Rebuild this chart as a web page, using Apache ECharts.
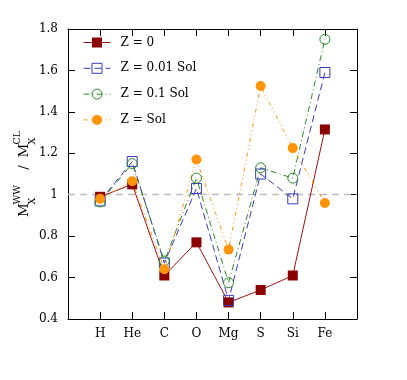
<!DOCTYPE html>
<html>
<head>
<meta charset="utf-8">
<script src="https://cdn.jsdelivr.net/npm/echarts@6/dist/echarts.min.js"></script>
<style>
html,body{margin:0;padding:0;background:#fff;}
#chart{width:407px;height:380px;}
</style>
</head>
<body>
<div id="chart"></div>
<script>
var categories = ['H', 'He', 'C', 'O', 'Mg', 'S', 'Si', 'Fe'];
var seriesNames = ['Z = 0', 'Z = 0.01 Sol', 'Z = 0.1 Sol', 'Z = Sol'];
var z0 = [0.99, 1.05, 0.61, 0.77, 0.48, 0.54, 0.61, 1.315];
var z001 = [0.97, 1.16, 0.67, 1.03, 0.49, 1.10, 0.98, 1.59];
var z01 = [0.965, 1.15, 0.68, 1.08, 0.575, 1.13, 1.08, 1.75];
var zsol = [0.98, 1.065, 0.64, 1.17, 0.735, 1.525, 1.225, 0.96];
var yTicks = [0.4, 0.6, 0.8, 1, 1.2, 1.4, 1.6, 1.8];

var FONT = '"DejaVu Serif"';
function pts(vals){ return categories.map(function(c,i){ return [i, vals[i]]; }); }

var chart = echarts.init(document.getElementById('chart'), null, {renderer:'canvas'});
var xCommon = {type:'value', min:-1, max:8, interval:1,
  axisLine:{show:true, onZero:false, lineStyle:{color:'#000', width:1}},
  axisTick:{show:true, inside:true, length:7, lineStyle:{color:'#000'}},
  splitLine:{show:false}};
var yCommon = {type:'value', min:yTicks[0], max:yTicks[yTicks.length-1], interval:0.2,
  axisLine:{show:true, onZero:false, lineStyle:{color:'#000', width:1}},
  axisTick:{show:true, inside:true, length:7, lineStyle:{color:'#000'}},
  splitLine:{show:false}};

var option = {
  animation:false,
  backgroundColor:'#fff',
  grid:{left:68, right:50, top:29, bottom:61},
  xAxis:[
    Object.assign({}, xCommon, {position:'bottom',
      axisLabel:{show:true, margin:9, color:'#000', fontFamily:FONT, fontSize:12,
        formatter:function(v){ return categories[v] || ''; }}}),
    Object.assign({}, xCommon, {position:'top', axisLabel:{show:false}})
  ],
  yAxis:[
    Object.assign({}, yCommon, {position:'left',
      axisLabel:{show:true, margin:10, color:'#000', fontFamily:FONT, fontSize:12}}),
    Object.assign({}, yCommon, {position:'right', axisLabel:{show:false}})
  ],
  legend:{
    orient:'vertical', left:83, top:36.5, padding:0,
    itemWidth:27, itemHeight:12.5, itemGap:13.8,
    data:seriesNames,
    itemStyle:{borderWidth:1},
    lineStyle:{width:1},
    textStyle:{color:'#000', fontFamily:FONT, fontSize:12, padding:[0,0,0,5]}
  },
  graphic:[{
    type:'group', x:29, y:174.5, rotation:Math.PI/2,
    children:[
      {type:'text', x:-42.5, y:-5, style:{text:'M', font:'13.5px '+FONT, fill:'#000', align:'left', verticalAlign:'middle', textAlign:'left', textVerticalAlign:'middle'}},
      {type:'text', x:-30, y:4, style:{text:'X', font:'9.5px '+FONT, fill:'#000', align:'left', verticalAlign:'middle', textAlign:'left', textVerticalAlign:'middle'}},
      {type:'text', x:-30, y:-11.5, style:{text:'WW', font:'9.5px '+FONT, fill:'#000', align:'left', verticalAlign:'middle', textAlign:'left', textVerticalAlign:'middle'}},
      {type:'text', x:7, y:-5, style:{text:'/', font:'13.5px '+FONT, fill:'#000', align:'center', verticalAlign:'middle', textAlign:'center', textVerticalAlign:'middle'}},
      {type:'text', x:17, y:-5, style:{text:'M', font:'13.5px '+FONT, fill:'#000', align:'left', verticalAlign:'middle', textAlign:'left', textVerticalAlign:'middle'}},
      {type:'text', x:30, y:4, style:{text:'X', font:'9.5px '+FONT, fill:'#000', align:'left', verticalAlign:'middle', textAlign:'left', textVerticalAlign:'middle'}},
      {type:'text', x:30, y:-11.5, style:{text:'CL', font:'9.5px '+FONT, fill:'#000', align:'left', verticalAlign:'middle', textAlign:'left', textVerticalAlign:'middle'}}
    ]
  }],
  series:[
    {name:seriesNames[0], type:'line', data:pts(z0), symbol:'rect', symbolSize:10,
      itemStyle:{color:'#8b0000'}, lineStyle:{color:'#a01010', width:1, type:'solid'},
      markLine:{silent:true, symbol:['none','none'], label:{show:false},
        lineStyle:{color:'#bdbdbd', width:1.3, type:[7,5]}, data:[{yAxis:1}], z:1}},
    {name:seriesNames[1], type:'line', data:pts(z001), symbol:'rect', symbolSize:10,
      itemStyle:{color:'rgba(0,0,0,0)', borderColor:'#3a3ab8', borderWidth:1},
      lineStyle:{color:'#3a3ab8', width:1, type:[7,4]}},
    {name:seriesNames[2], type:'line', data:pts(z01), symbol:'circle', symbolSize:10,
      itemStyle:{color:'rgba(0,0,0,0)', borderColor:'#2a8a2a', borderWidth:1},
      lineStyle:{color:'#2a8a2a', width:1, type:[6,3,1,3]}},
    {name:seriesNames[3], type:'line', data:pts(zsol), symbol:'circle', symbolSize:10,
      itemStyle:{color:'#ff9408'},
      lineStyle:{color:'#ff9408', width:1, type:[4,3,1,3,1,3]}}
  ]
};
chart.setOption(option);
</script>
</body>
</html>
